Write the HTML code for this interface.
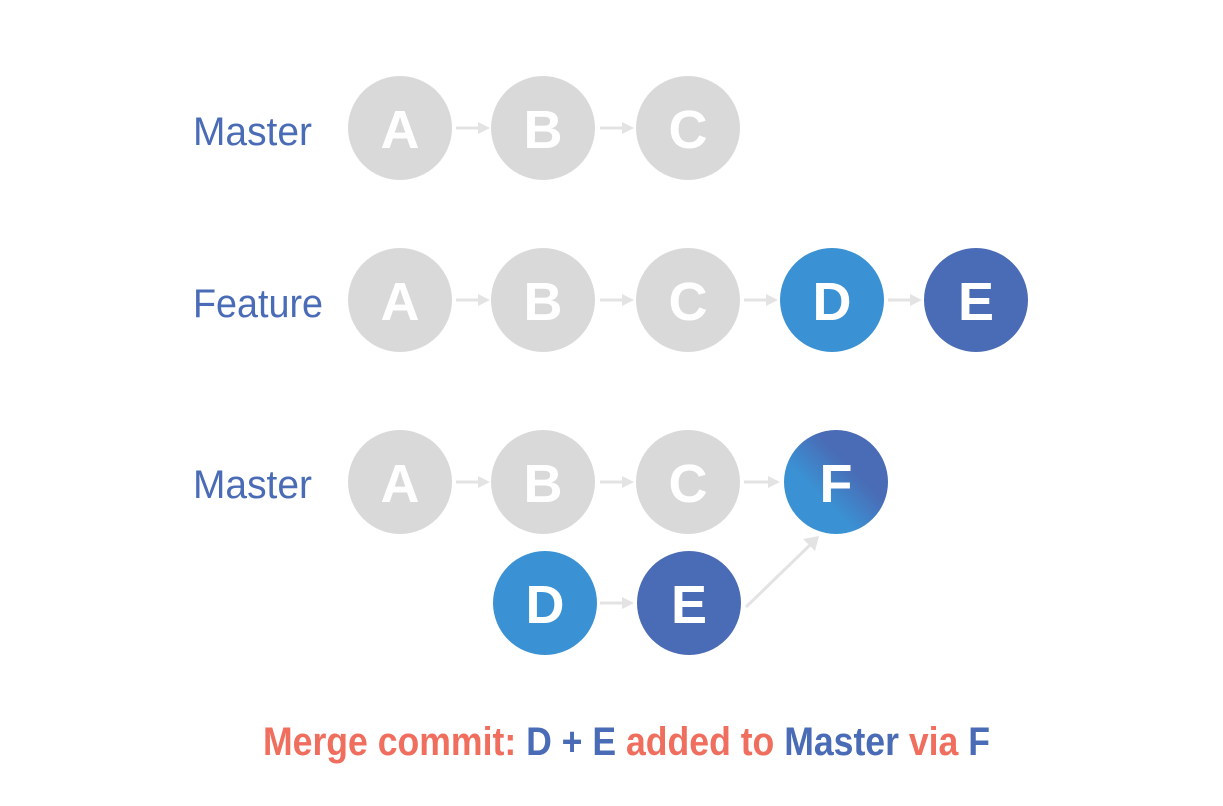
<!DOCTYPE html>
<html><head><meta charset="utf-8"><style>html,body{margin:0;padding:0;background:#fff}svg{display:block}</style></head>
<body>
<svg width="1223" height="806" viewBox="0 0 1223 806" xmlns="http://www.w3.org/2000/svg">
<defs>
<linearGradient id="fg" x1="0" y1="1" x2="1" y2="0">
<stop offset="0.35" stop-color="#3a92d4"/><stop offset="0.65" stop-color="#4a6bb5"/>
</linearGradient>
</defs>
<g font-family="Liberation Sans, sans-serif" fill="#4a6bb5" font-size="40">
<text x="193" y="145" textLength="119" lengthAdjust="spacingAndGlyphs">Master</text>
<text x="193" y="317" textLength="130" lengthAdjust="spacingAndGlyphs">Feature</text>
<text x="193" y="498" textLength="119" lengthAdjust="spacingAndGlyphs">Master</text>
</g>
<g stroke="#e3e3e3" stroke-width="3" fill="#e3e3e3">
<path d="M456 128H478"/><path d="M478 122L490 128L478 134Z" stroke="none"/>
<path d="M600 128H622"/><path d="M622 122L634 128L622 134Z" stroke="none"/>
<path d="M456 300H478"/><path d="M478 294L490 300L478 306Z" stroke="none"/>
<path d="M600 300H622"/><path d="M622 294L634 300L622 306Z" stroke="none"/>
<path d="M744 300H766"/><path d="M766 294L778 300L766 306Z" stroke="none"/>
<path d="M888 300H910"/><path d="M910 294L922 300L910 306Z" stroke="none"/>
<path d="M456 482H478"/><path d="M478 476L490 482L478 488Z" stroke="none"/>
<path d="M600 482H622"/><path d="M622 476L634 482L622 488Z" stroke="none"/>
<path d="M744 482H768"/><path d="M768 476L780 482L768 488Z" stroke="none"/>
<path d="M600 603H622"/><path d="M622 597L634 603L622 609Z" stroke="none"/>
<path d="M746 607L810 545"/><path d="M803 539L819 536L815 551Z" stroke="none"/>
</g>
<g fill="#d9d9d9">
<circle cx="400" cy="128" r="52"/><circle cx="543" cy="128" r="52"/><circle cx="688" cy="128" r="52"/>
<circle cx="400" cy="300" r="52"/><circle cx="543" cy="300" r="52"/><circle cx="688" cy="300" r="52"/>
<circle cx="400" cy="482" r="52"/><circle cx="543" cy="482" r="52"/><circle cx="688" cy="482" r="52"/>
</g>
<circle cx="832" cy="300" r="52" fill="#3a92d4"/>
<circle cx="976" cy="300" r="52" fill="#4a6bb5"/>
<circle cx="836" cy="482" r="52" fill="url(#fg)"/>
<circle cx="545" cy="603" r="52" fill="#3a92d4"/>
<circle cx="689" cy="603" r="52" fill="#4a6bb5"/>
<g font-family="Liberation Sans, sans-serif" fill="#fff" font-size="54" font-weight="bold" text-anchor="middle">
<text x="400" y="148">A</text><text x="543" y="148">B</text><text x="688" y="148">C</text>
<text x="400" y="320">A</text><text x="543" y="320">B</text><text x="688" y="320">C</text><text x="832" y="320">D</text><text x="976" y="320">E</text>
<text x="400" y="502">A</text><text x="543" y="502">B</text><text x="688" y="502">C</text><text x="836" y="502">F</text>
<text x="545" y="623">D</text><text x="689" y="623">E</text>
</g>
<text x="263" y="755" font-family="Liberation Sans, sans-serif" font-size="40" font-weight="bold" textLength="727" lengthAdjust="spacingAndGlyphs" fill="#f06e5e">Merge commit: <tspan fill="#4a6bb5">D + E</tspan> added to <tspan fill="#4a6bb5">Master</tspan> via <tspan fill="#4a6bb5">F</tspan></text>
</svg>
</body></html>
